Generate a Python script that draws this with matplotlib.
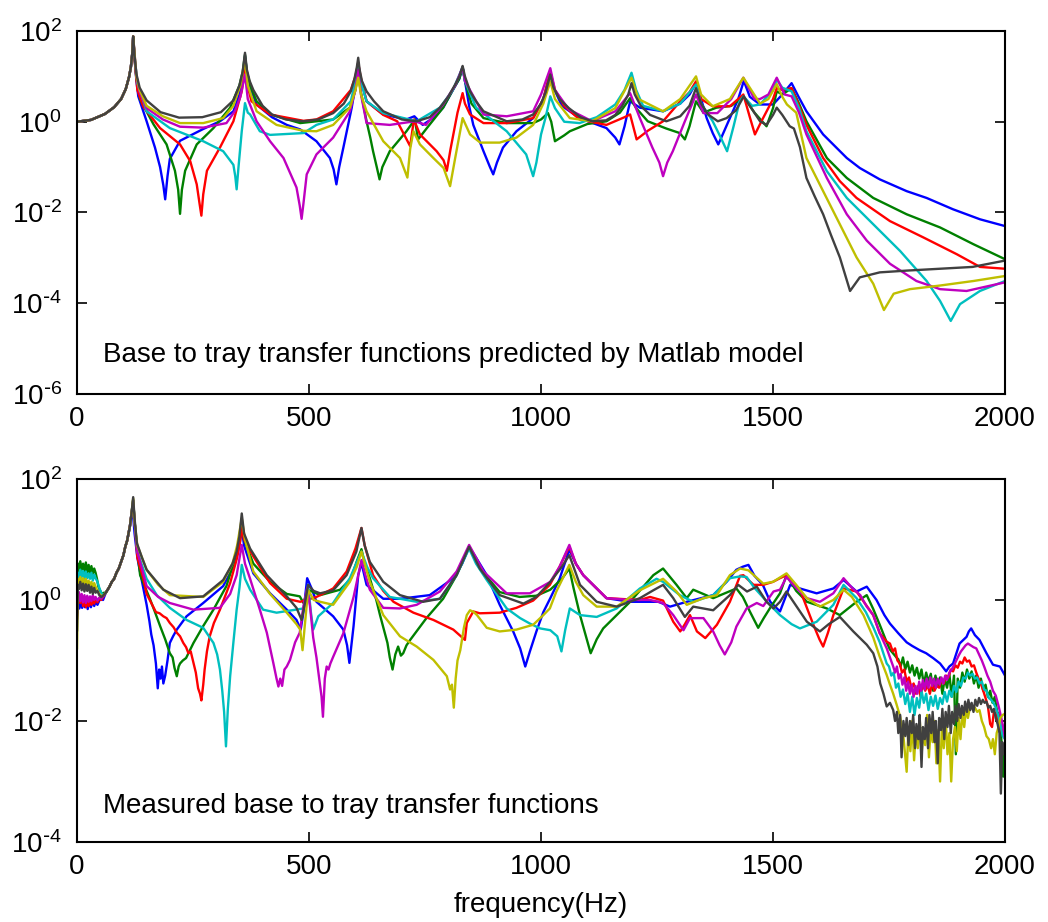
import numpy as np
import matplotlib
matplotlib.use("Agg")
import matplotlib.pyplot as plt
from matplotlib.ticker import FuncFormatter, LogFormatterMathtext, NullLocator

plt.rcParams['font.family'] = ['Liberation Sans', 'DejaVu Sans']
plt.rcParams['axes.unicode_minus'] = False

# ---------------------------------------------------------------------------
# Data: (frequency in Hz, log10 of transfer-function magnitude)
# ---------------------------------------------------------------------------
freq_ticks = [0, 500, 1000, 1500, 2000]
model_decades = [2, 0, -2, -4, -6]
meas_decades = [2, 0, -2, -4]

line_colors = ['#0000ff', '#008000', '#ff0000', '#00bfbf', '#bf00bf', '#bfbf00', '#404040']

# Matlab model: common rise towards the first mode
model_rise = [(0, 0.0), (30, 0.04), (60, 0.17), (80, 0.32), (95, 0.5), (105, 0.72),
              (112, 0.98), (116, 1.2), (119, 1.5), (121, 1.88)]

model_blue = model_rise + [
    (124, 1.4), (128, 0.9), (132, 0.56), (150, 0.01), (168, -0.57), (179, -1.0), (186, -1.4),
    (190, -1.71), (195, -1.2), (200, -0.82), (222, -0.42), (272, -0.16), (308, 0.01), (337, 0.23),
    (350, 0.6), (357, 0.95), (362, 1.45), (366, 1.1), (375, 0.7), (387, 0.38), (420, 0.1),
    (452, -0.07), (481, -0.17), (516, -0.43), (545, -0.8), (553, -1.05), (559, -1.38), (565, -1.0),
    (574, -0.57), (592, 0.31), (600, 0.8), (606, 1.3), (610, 1.0), (624, 0.45), (660, 0.16),
    (710, 0.05), (727, 0.12), (745, -0.07), (770, 0.1), (789, 0.31), (810, 0.7), (824, 0.95),
    (831, 1.2), (836, 0.9), (845, 0.35), (854, -0.07), (876, -0.65), (890, -1.0), (897, -1.16),
    (905, -0.9), (918, -0.57), (947, -0.21), (983, 0.08), (1005, 0.5), (1020, 1.1), (1027, 0.75),
    (1045, 0.35), (1083, 0.08), (1141, -0.14), (1160, -0.35), (1169, -0.5), (1180, -0.1),
    (1192, 0.45), (1213, 0.31), (1263, 0.23), (1300, 0.4), (1320, 0.6), (1334, 0.85), (1345, 0.5),
    (1357, 0.08), (1370, -0.25), (1382, -0.5), (1395, -0.2), (1407, 0.08), (1425, 0.5),
    (1437, 0.9), (1450, 0.55), (1472, 0.38), (1500, 0.38), (1520, 0.6), (1540, 0.85), (1555, 0.55),
    (1572, 0.23), (1608, -0.28), (1659, -0.8), (1687, -1.02), (1730, -1.27), (1788, -1.53),
    (1831, -1.68), (1888, -1.93), (1946, -2.15), (2000, -2.3)]

model_green = model_rise + [
    (124, 1.4), (128, 0.95), (136, 0.49), (165, -0.06), (193, -0.5), (211, -1.08), (218, -1.5),
    (222, -2.03), (226, -1.5), (233, -1.08), (258, -0.5), (294, -0.14), (330, 0.31), (350, 0.8),
    (357, 1.1), (362, 1.48), (366, 1.1), (375, 0.75), (387, 0.45), (420, 0.15), (481, -0.03),
    (552, 0.05), (588, 0.31), (600, 0.7), (606, 1.12), (611, 0.7), (624, 0.01), (632, -0.35),
    (638, -0.65), (646, -1.0), (652, -1.27), (658, -1.0), (674, -0.65), (710, -0.21), (728, 0.05),
    (732, -0.2), (735, -0.39), (754, -0.14), (789, 0.31), (810, 0.7), (824, 0.95), (831, 1.2),
    (836, 0.9), (850, 0.4), (876, 0.08), (926, -0.03), (983, -0.03), (1000, 0.05), (1015, 0.19),
    (1022, 0.0), (1030, -0.43), (1050, -0.3), (1062, -0.21), (1100, -0.05), (1141, 0.01),
    (1170, 0.2), (1192, 0.52), (1205, 0.3), (1230, 0.01), (1270, -0.15), (1299, -0.25),
    (1310, -0.39), (1320, -0.1), (1334, 0.45), (1350, 0.2), (1378, 0.31), (1410, 0.35),
    (1436, 0.56), (1460, 0.2), (1486, -0.1), (1500, 0.3), (1508, 0.67), (1520, 0.6), (1540, 0.74),
    (1556, 0.4), (1572, 0.01), (1616, -0.8), (1659, -1.24), (1716, -1.68), (1788, -2.04),
    (1860, -2.33), (1932, -2.7), (2000, -3.03)]

model_red = model_rise + [
    (124, 1.4), (130, 0.7), (143, 0.33), (179, -0.14), (222, -0.5), (244, -0.87), (258, -1.38),
    (264, -1.8), (268, -2.07), (272, -1.6), (280, -1.08), (308, -0.57), (337, 0.01), (355, 0.67),
    (362, 1.18), (366, 0.85), (376, 0.45), (416, 0.16), (488, 0.02), (516, 0.05), (552, 0.23),
    (590, 0.7), (600, 1.0), (606, 1.3), (611, 1.0), (624, 0.45), (660, 0.15), (690, 0.01),
    (718, -0.54), (726, 0.05), (739, -0.28), (775, -0.65), (790, -0.85), (797, -1.08), (805, -0.6),
    (820, 0.2), (831, 0.63), (836, 0.4), (847, 0.16), (876, -0.03), (926, -0.03), (983, 0.08),
    (1005, 0.5), (1020, 1.1), (1030, 0.7), (1050, 0.35), (1083, 0.05), (1141, -0.07), (1180, 0.1),
    (1192, 0.16), (1206, -0.39), (1230, -0.2), (1263, 0.01), (1300, 0.45), (1320, 0.65),
    (1334, 0.89), (1345, 0.5), (1370, 0.34), (1407, 0.34), (1436, 0.6), (1450, 0.1),
    (1461, -0.28), (1475, 0.01), (1500, 0.5), (1508, 0.74), (1520, 0.7), (1540, 0.74),
    (1556, 0.35), (1572, -0.07), (1608, -0.8), (1644, -1.31), (1680, -1.68), (1752, -2.19),
    (1824, -2.55), (1896, -2.92), (1946, -3.2), (2000, -3.24)]

model_cyan = model_rise + [
    (124, 1.45), (130, 0.85), (150, 0.23), (200, -0.14), (272, -0.43), (315, -0.65), (337, -0.95),
    (341, -1.2), (344, -1.49), (348, -1.0), (355, -0.21), (362, 0.41), (368, 0.2), (373, 0.16),
    (394, -0.21), (416, -0.29), (488, -0.25), (516, -0.07), (552, 0.05), (590, 0.45), (600, 0.9),
    (606, 1.3), (611, 0.9), (624, 0.45), (660, 0.19), (732, 0.01), (782, 0.31), (810, 0.7),
    (831, 1.2), (836, 0.9), (860, 0.31), (926, -0.21), (968, -0.72), (983, -1.2), (990, -0.9),
    (1000, -0.28), (1010, 0.1), (1020, 0.56), (1030, 0.3), (1050, 0.0), (1083, -0.03),
    (1120, 0.1), (1160, 0.38), (1180, 0.7), (1195, 1.08), (1205, 0.7), (1220, 0.35), (1263, 0.23),
    (1300, 0.4), (1334, 0.82), (1345, 0.4), (1370, 0.01), (1385, -0.3), (1401, -0.65),
    (1415, -0.1), (1428, 0.45), (1436, 0.56), (1455, 0.35), (1472, 0.38), (1500, 0.7),
    (1508, 0.93), (1520, 0.75), (1540, 0.67), (1556, 0.3), (1572, -0.21), (1616, -1.09),
    (1659, -1.68), (1716, -2.26), (1774, -2.85), (1831, -3.51), (1860, -3.95), (1883, -4.39),
    (1903, -4.02), (1946, -3.73), (2000, -3.51)]

model_magenta = model_rise + [
    (124, 1.5), (128, 1.0), (135, 0.65), (150, 0.3), (185, 0.05), (222, -0.11), (272, -0.13),
    (322, -0.03), (340, 0.23), (352, 0.55), (362, 1.04), (368, 0.5), (387, 0.01), (416, -0.43),
    (445, -0.8), (473, -1.45), (480, -1.85), (484, -2.14), (488, -1.8), (495, -1.16), (516, -0.72),
    (552, -0.35), (588, 0.23), (600, 0.7), (606, 1.15), (612, 0.6), (624, -0.03), (674, -0.07),
    (728, 0.01), (752, -0.07), (789, 0.38), (815, 0.8), (831, 1.2), (836, 0.9), (876, 0.16),
    (926, 0.12), (983, 0.23), (1000, 0.6), (1020, 1.18), (1030, 0.7), (1060, 0.27), (1110, 0.01),
    (1160, 0.23), (1192, 0.63), (1213, 0.08), (1240, -0.57), (1255, -0.9), (1263, -1.2),
    (1272, -0.9), (1284, -0.65), (1310, 0.01), (1334, 0.6), (1350, 0.19), (1380, 0.19),
    (1410, 0.5), (1436, 0.97), (1460, 0.5), (1472, 0.5), (1490, 0.6), (1508, 0.97), (1525, 0.6),
    (1540, 0.56), (1556, 0.2), (1572, -0.28), (1616, -1.24), (1659, -2.04), (1702, -2.62),
    (1752, -3.13), (1809, -3.51), (1860, -3.69), (1917, -3.73), (2000, -3.54)]

model_yellow = model_rise + [
    (124, 1.5), (128, 1.0), (135, 0.7), (150, 0.35), (185, 0.12), (222, -0.03), (272, -0.03),
    (315, 0.08), (337, 0.35), (352, 0.8), (362, 1.36), (368, 0.8), (387, 0.23), (430, -0.07),
    (488, -0.2), (516, -0.21), (552, -0.07), (588, 0.31), (600, 0.7), (606, 0.97), (612, 0.6),
    (624, 0.23), (660, -0.43), (696, -0.8), (712, -1.23), (718, -0.6), (725, -0.21), (739, -0.5),
    (768, -0.8), (790, -1.02), (804, -1.42), (815, -0.8), (831, 0.08), (847, -0.28), (869, -0.46),
    (911, -0.46), (947, -0.35), (983, -0.07), (1005, 0.4), (1020, 0.89), (1030, 0.5), (1062, 0.08),
    (1110, 0.01), (1160, 0.3), (1195, 0.97), (1210, 0.5), (1263, 0.23), (1300, 0.5), (1334, 1.0),
    (1345, 0.6), (1370, 0.34), (1407, 0.5), (1436, 0.97), (1472, 0.4), (1490, 0.5), (1508, 0.83),
    (1520, 0.55), (1530, 0.38), (1550, 0.2), (1572, -0.8), (1608, -1.53), (1644, -2.26),
    (1680, -2.99), (1716, -3.57), (1739, -4.15), (1760, -3.79), (1795, -3.69), (1860, -3.61),
    (1932, -3.51), (2000, -3.4)]

model_gray = model_rise + [
    (124, 1.45), (128, 1.05), (135, 0.75), (150, 0.47), (180, 0.21), (220, 0.09), (270, 0.1),
    (310, 0.21), (337, 0.47), (350, 0.8), (357, 1.1), (362, 1.52), (366, 1.15), (372, 0.9),
    (380, 0.7), (400, 0.35), (420, 0.16), (450, 0.05), (488, 0.01), (520, 0.05), (552, 0.19),
    (575, 0.4), (590, 0.67), (598, 0.95), (603, 1.2), (606, 1.41), (609, 1.15), (614, 0.9),
    (624, 0.67), (640, 0.45), (660, 0.23), (700, 0.05), (732, 0.01), (760, 0.1), (782, 0.31),
    (800, 0.55), (815, 0.82), (824, 1.0), (831, 1.23), (836, 1.0), (847, 0.67), (860, 0.45),
    (876, 0.23), (926, 0.01), (960, 0.05), (983, 0.16), (1000, 0.4), (1010, 0.65), (1020, 1.04),
    (1027, 0.75), (1040, 0.5), (1060, 0.3), (1085, 0.1), (1110, 0.01), (1140, 0.03), (1160, 0.15),
    (1175, 0.35), (1188, 0.6), (1195, 0.85), (1202, 0.6), (1215, 0.35), (1235, 0.15), (1270, 0.01),
    (1300, 0.12), (1320, 0.35), (1334, 0.74), (1345, 0.4), (1360, 0.16), (1381, 0.01),
    (1400, 0.08), (1420, 0.25), (1437, 0.56), (1450, 0.35), (1472, 0.01), (1486, -0.07),
    (1500, 0.15), (1508, 0.31), (1520, 0.15), (1536, -0.1), (1545, -0.15), (1558, -0.56),
    (1572, -1.24), (1590, -1.65), (1608, -2.04), (1625, -2.5), (1644, -2.99), (1666, -3.73),
    (1687, -3.43), (1730, -3.32), (1790, -3.28), (1860, -3.24), (1930, -3.2), (2000, -3.06)]

# Measurements: common rise towards the first mode
meas_rise = [(62, 0.12), (66, 0.17), (70, 0.22), (75, 0.3), (80, 0.35), (85, 0.45), (90, 0.52),
             (95, 0.63), (100, 0.74), (104, 0.88), (108, 0.98), (111, 1.1), (114, 1.22), (117, 1.4)]

meas_blue = [
    (0, -0.25), (2, -0.03), (5, -0.14), (8, -0.04), (11, -0.13), (14, -0.02), (17, -0.12),
    (20, -0.05), (23, -0.15), (26, -0.04), (30, -0.12), (33, -0.02), (37, -0.1), (40, -0.03),
    (44, -0.08), (48, -0.01), (52, 0.03), (56, 0.0)] + meas_rise + [
    (121, 1.38), (124, 1.1), (130, 0.7), (136, 0.46), (150, -0.08), (156, -0.35), (160, -0.57),
    (165, -0.75), (170, -1.05), (174, -1.46), (177, -1.15), (180, -1.3), (183, -1.1), (186, -1.38),
    (190, -1.25), (195, -1.0), (200, -0.71), (207, -0.6), (215, -0.49), (236, -0.27), (272, -0.05),
    (315, 0.23), (340, 0.6), (350, 0.9), (355, 1.18), (360, 0.9), (380, 0.44), (416, 0.11),
    (452, -0.16), (473, -0.33), (482, -0.49), (488, -0.2), (496, 0.36), (505, 0.2), (516, -0.03),
    (552, -0.27), (574, -0.49), (582, -0.75), (587, -1.04), (592, -0.7), (596, -0.43), (606, 0.41),
    (613, 0.61), (624, 0.25), (660, 0.02), (696, 0.02), (760, 0.08), (811, 0.36), (830, 0.6),
    (845, 0.88), (860, 0.7), (883, 0.41), (911, -0.08), (940, -0.52), (955, -0.8), (966, -1.1),
    (976, -0.85), (990, -0.52), (1005, -0.2), (1020, 0.03), (1040, 0.35), (1061, 0.83),
    (1075, 0.6), (1091, 0.41), (1141, 0.03), (1192, -0.03), (1253, -0.03), (1278, -0.11),
    (1314, -0.03), (1371, 0.08), (1400, 0.3), (1421, 0.5), (1435, 0.55), (1447, 0.58), (1460, 0.4),
    (1478, 0.25), (1494, -0.03), (1515, -0.19), (1537, 0.25), (1558, 0.19), (1594, 0.11),
    (1630, 0.19), (1652, 0.33), (1680, 0.14), (1702, 0.22), (1723, 0.0), (1740, -0.25),
    (1752, -0.39), (1770, -0.55), (1788, -0.7), (1800, -0.76), (1816, -0.83), (1830, -0.88),
    (1845, -0.96), (1860, -1.05), (1873, -1.18), (1880, -1.1), (1888, -1.05), (1902, -0.72),
    (1917, -0.61), (1922, -0.52), (1927, -0.47), (1935, -0.58), (1945, -0.66), (1960, -0.88),
    (1974, -1.07), (1989, -1.1), (2000, -1.25)]

meas_green = [
    (0, -0.1), (2, 0.6), (4, 0.5), (7, 0.64), (10, 0.5), (13, 0.6), (16, 0.47), (19, 0.62),
    (22, 0.45), (25, 0.58), (28, 0.44), (31, 0.56), (34, 0.43), (37, 0.52), (40, 0.45), (43, 0.35),
    (46, 0.22), (50, 0.15), (54, 0.1), (58, 0.12)] + meas_rise + [
    (121, 1.65), (124, 1.3), (130, 0.8), (136, 0.41), (157, 0.02), (168, -0.2), (179, -0.43),
    (190, -0.65), (200, -0.88), (206, -0.95), (210, -1.12), (215, -1.26), (219, -1.1),
    (222, -1.05), (228, -1.0), (235, -0.96), (251, -0.71), (272, -0.43), (294, -0.16), (322, 0.23),
    (345, 0.8), (355, 1.3), (360, 1.0), (380, 0.6), (416, 0.3), (452, 0.1), (480, 0.06),
    (488, -0.05), (498, 0.17), (524, 0.08), (567, 0.17), (590, 0.35), (603, 0.64), (613, 0.84),
    (620, 0.6), (631, 0.36), (645, 0.0), (653, -0.25), (669, -0.71), (674, -0.95), (680, -1.15),
    (686, -0.9), (692, -0.77), (698, -0.92), (703, -0.88), (710, -0.75), (718, -0.66),
    (753, -0.3), (789, 0.02), (818, 0.41), (845, 0.88), (868, 0.52), (911, 0.13), (954, 0.05),
    (990, 0.07), (1020, 0.17), (1045, 0.35), (1061, 0.52), (1070, 0.2), (1084, -0.25),
    (1095, -0.55), (1107, -0.88), (1120, -0.65), (1134, -0.47), (1192, -0.03), (1242, 0.41),
    (1263, 0.52), (1292, 0.25), (1314, 0.03), (1328, 0.17), (1371, 0.03), (1421, 0.19),
    (1435, 0.05), (1450, -0.19), (1468, -0.46), (1480, -0.3), (1493, -0.14), (1515, 0.11),
    (1529, 0.41), (1550, 0.15), (1573, -0.03), (1616, -0.14), (1644, -0.25), (1680, -0.03),
    (1702, 0.08), (1716, -0.15), (1730, -0.41), (1745, -0.7), (1752, -0.82), (1766, -0.95),
    (1770, -0.98), (1775, -1.1), (1780, -0.95), (1785, -1.15), (1790, -1.02), (1795, -1.2),
    (1800, -1.08), (1805, -1.25), (1810, -1.12), (1815, -1.3), (1820, -1.15), (1825, -1.4),
    (1830, -1.2), (1835, -1.35), (1840, -1.22), (1845, -1.5), (1850, -1.25), (1855, -1.42),
    (1860, -1.28), (1865, -1.55), (1870, -1.3), (1875, -1.45), (1880, -1.22), (1885, -1.6),
    (1890, -1.25), (1894, -2.55), (1898, -1.3), (1903, -1.45), (1908, -1.2), (1913, -1.35),
    (1918, -1.15), (1923, -1.3), (1928, -1.18), (1933, -1.38), (1938, -1.25), (1943, -1.45),
    (1948, -1.3), (1953, -1.5), (1958, -1.4), (1963, -1.6), (1968, -1.5), (1973, -1.7),
    (1978, -1.6), (1983, -1.85), (1988, -1.9), (1992, -2.3), (1996, -2.92), (2000, -2.4)]

meas_red = [
    (0, -0.3), (2, 0.0), (4, 0.1), (7, -0.05), (10, 0.08), (13, -0.1), (16, 0.05), (19, -0.12),
    (22, 0.03), (25, -0.1), (28, 0.0), (31, -0.08), (34, 0.04), (37, -0.06), (40, 0.02),
    (44, -0.04), (48, 0.02), (52, 0.0), (56, 0.05)] + meas_rise + [
    (121, 1.6), (124, 1.3), (130, 0.7), (143, 0.35), (150, 0.1), (160, -0.05), (170, -0.2),
    (178, -0.22), (186, -0.27), (193, -0.3), (200, -0.38), (208, -0.45), (215, -0.54),
    (222, -0.6), (229, -0.71), (235, -0.78), (240, -0.88), (245, -0.85), (251, -1.04), (256, -1.2),
    (261, -1.46), (265, -1.55), (268, -1.66), (272, -1.4), (275, -1.15), (280, -0.85), (286, -0.6),
    (295, -0.38), (308, -0.16), (330, 0.28), (345, 0.7), (351, 0.94), (355, 1.2), (360, 1.0),
    (380, 0.72), (416, 0.28), (452, 0.02), (481, -0.03), (516, 0.05), (552, 0.19), (581, 0.47),
    (600, 0.85), (613, 1.19), (620, 0.9), (638, 0.41), (660, 0.15), (682, -0.03), (725, -0.21),
    (768, -0.33), (811, -0.49), (836, -0.66), (840, -0.38), (854, -0.19), (868, -0.22),
    (911, -0.21), (947, -0.13), (983, -0.01), (1019, 0.25), (1040, 0.55), (1061, 0.88),
    (1075, 0.6), (1091, 0.41), (1141, 0.03), (1213, 0.0), (1235, 0.05), (1263, -0.01),
    (1285, -0.36), (1300, -0.52), (1310, -0.4), (1321, -0.25), (1336, -0.52), (1354, -0.63),
    (1379, -0.41), (1407, -0.03), (1429, 0.4), (1436, 0.41), (1458, 0.25), (1479, 0.25),
    (1500, 0.3), (1515, 0.36), (1529, 0.41), (1558, 0.17), (1587, -0.41), (1600, -0.65),
    (1608, -0.77), (1618, -0.55), (1630, -0.25), (1652, 0.19), (1680, 0.14), (1702, -0.1),
    (1716, -0.25), (1730, -0.55), (1745, -0.69), (1752, -0.72), (1758, -0.85), (1763, -0.8),
    (1768, -1.0), (1773, -1.05), (1778, -1.2), (1783, -1.15), (1788, -1.35), (1793, -1.28),
    (1798, -1.45), (1803, -1.38), (1808, -1.55), (1813, -1.42), (1818, -1.6), (1823, -1.38),
    (1828, -1.5), (1833, -1.4), (1838, -1.55), (1843, -1.38), (1848, -1.5), (1853, -1.42),
    (1858, -1.45), (1863, -1.32), (1868, -1.38), (1873, -1.25), (1878, -1.28), (1883, -1.15),
    (1888, -1.18), (1893, -1.08), (1898, -1.12), (1903, -1.02), (1908, -1.05), (1913, -0.95),
    (1918, -1.02), (1923, -1.0), (1928, -1.1), (1933, -1.08), (1938, -1.2), (1943, -1.3),
    (1948, -1.38), (1953, -1.5), (1958, -1.62), (1963, -1.75), (1968, -2.05), (1972, -2.1),
    (1976, -1.85), (1982, -1.9), (1988, -2.1), (1994, -2.2), (2000, -2.05)]

meas_cyan = [
    (0, -0.1), (2, 0.45), (4, 0.36), (7, 0.5), (10, 0.38), (13, 0.48), (16, 0.35), (19, 0.47),
    (22, 0.36), (25, 0.44), (28, 0.35), (31, 0.45), (34, 0.32), (37, 0.42), (40, 0.36), (44, 0.3),
    (48, 0.2), (52, 0.12), (56, 0.08)] + meas_rise + [
    (121, 1.65), (124, 1.3), (130, 0.8), (150, 0.35), (172, 0.08), (200, -0.13), (236, -0.33),
    (272, -0.46), (294, -0.71), (302, -0.9), (308, -1.15), (313, -1.5), (317, -1.85), (321, -2.42),
    (325, -1.8), (330, -1.26), (337, -0.7), (344, -0.16), (350, 0.2), (355, 0.58), (362, 0.35),
    (373, 0.17), (401, -0.16), (430, -0.21), (488, -0.14), (498, 0.25), (504, -0.2), (509, -0.49),
    (520, -0.27), (552, -0.05), (588, 0.36), (613, 0.8), (625, 0.55), (638, 0.36), (674, 0.05),
    (732, -0.03), (782, 0.02), (818, 0.41), (845, 0.85), (860, 0.6), (883, 0.33), (926, -0.14),
    (955, -0.3), (976, -0.39), (998, -0.47), (1020, -0.5), (1035, -0.6), (1044, -0.85),
    (1052, -0.5), (1062, -0.14), (1084, -0.25), (1120, -0.28), (1163, -0.14), (1213, 0.19),
    (1249, 0.35), (1263, 0.3), (1299, 0.08), (1328, -0.03), (1371, 0.08), (1407, 0.36),
    (1429, 0.39), (1443, 0.38), (1460, 0.2), (1487, -0.03), (1515, -0.25), (1540, -0.4),
    (1558, -0.47), (1594, -0.36), (1630, -0.08), (1652, 0.25), (1680, 0.03), (1700, -0.2),
    (1716, -0.45), (1730, -0.7), (1745, -1.05), (1750, -1.1), (1755, -1.25), (1760, -1.2),
    (1765, -1.45), (1770, -1.38), (1775, -1.6), (1780, -1.48), (1785, -1.72), (1790, -1.55),
    (1795, -1.85), (1800, -1.6), (1805, -1.9), (1810, -1.62), (1815, -1.78), (1820, -1.5),
    (1825, -1.7), (1830, -1.55), (1835, -1.82), (1840, -1.6), (1845, -1.75), (1850, -1.58),
    (1855, -1.8), (1860, -1.62), (1865, -1.72), (1870, -1.52), (1875, -1.68), (1880, -1.5),
    (1885, -1.6), (1890, -1.42), (1895, -1.52), (1900, -1.35), (1905, -1.42), (1910, -1.28),
    (1915, -1.3), (1920, -1.2), (1925, -1.25), (1930, -1.22), (1935, -1.3), (1940, -1.28),
    (1945, -1.38), (1950, -1.35), (1955, -1.48), (1960, -1.5), (1965, -1.62), (1970, -1.65),
    (1975, -1.7), (1980, -1.78), (1985, -1.9), (1990, -2.05), (1995, -2.25), (2000, -2.3)]

meas_magenta = [
    (0, -0.2), (2, 0.05), (4, 0.13), (7, -0.02), (10, 0.1), (13, -0.04), (16, 0.08), (19, -0.05),
    (22, 0.07), (25, -0.03), (28, 0.06), (31, -0.02), (34, 0.08), (37, 0.0), (40, 0.05),
    (44, -0.01), (48, 0.04), (52, 0.02), (56, 0.06)] + meas_rise + [
    (121, 1.65), (124, 1.3), (130, 0.8), (150, 0.23), (175, 0.05), (200, -0.05), (251, -0.16),
    (308, -0.13), (330, 0.1), (344, 0.41), (355, 0.91), (362, 0.6), (373, 0.35), (394, -0.16),
    (409, -0.54), (423, -1.04), (430, -1.3), (434, -1.43), (438, -1.3), (442, -1.42), (447, -1.15),
    (452, -1.1), (459, -0.99), (470, -0.7), (480, -0.54), (488, -0.1), (496, 0.2), (502, -0.1),
    (509, -0.62), (516, -0.95), (522, -1.3), (527, -1.6), (530, -1.93), (534, -1.3), (538, -1.1),
    (542, -1.15), (546, -1.05), (552, -0.94), (574, -0.55), (596, 0.05), (613, 0.66), (622, 0.4),
    (631, 0.17), (660, -0.13), (696, -0.14), (732, -0.08), (782, 0.14), (818, 0.47), (845, 0.91),
    (860, 0.7), (876, 0.47), (926, 0.11), (976, 0.11), (1020, 0.3), (1040, 0.55), (1061, 0.91),
    (1075, 0.6), (1091, 0.41), (1141, 0.03), (1192, 0.0), (1235, 0.0), (1263, -0.05),
    (1285, -0.25), (1307, -0.5), (1321, -0.3), (1350, -0.3), (1371, -0.52), (1385, -0.75),
    (1396, -0.9), (1410, -0.7), (1421, -0.44), (1443, -0.14), (1465, -0.05), (1479, -0.1),
    (1501, 0.14), (1515, 0.17), (1529, 0.38), (1550, 0.2), (1573, 0.03), (1601, -0.03),
    (1630, 0.11), (1652, 0.36), (1670, 0.2), (1688, 0.08), (1702, -0.11), (1716, -0.25),
    (1730, -0.55), (1745, -0.8), (1759, -1.1), (1763, -1.2), (1767, -1.1), (1771, -1.3),
    (1775, -1.22), (1779, -1.4), (1783, -1.28), (1787, -1.5), (1791, -1.35), (1795, -1.55),
    (1799, -1.4), (1803, -1.6), (1807, -1.42), (1811, -1.55), (1815, -1.35), (1819, -1.5),
    (1823, -1.32), (1827, -1.48), (1831, -1.3), (1835, -1.45), (1839, -1.28), (1843, -1.42),
    (1847, -1.3), (1851, -1.45), (1855, -1.3), (1859, -1.4), (1863, -1.28), (1867, -1.38),
    (1871, -1.25), (1875, -1.32), (1880, -1.2), (1885, -1.15), (1890, -1.08), (1895, -1.0),
    (1900, -0.92), (1905, -0.85), (1910, -0.8), (1915, -0.75), (1920, -0.72), (1926, -0.75),
    (1932, -0.78), (1938, -0.8), (1944, -0.9), (1950, -1.0), (1956, -1.12), (1962, -1.25),
    (1968, -1.35), (1974, -1.5), (1980, -1.58), (1986, -1.75), (1992, -1.95), (1996, -2.1),
    (2000, -2.3)]

meas_yellow = [
    (0, -0.8), (2, 0.35), (4, 0.26), (7, 0.38), (10, 0.28), (13, 0.36), (16, 0.24), (19, 0.35),
    (22, 0.25), (25, 0.32), (28, 0.22), (31, 0.3), (34, 0.2), (37, 0.28), (40, 0.22), (44, 0.15),
    (48, 0.1), (52, 0.07), (56, 0.07)] + meas_rise + [
    (121, 1.68), (124, 1.3), (130, 0.9), (150, 0.5), (175, 0.25), (200, 0.08), (272, 0.05),
    (315, 0.3), (335, 0.6), (345, 0.9), (355, 1.35), (362, 1.0), (380, 0.47), (416, 0.1),
    (452, -0.21), (473, -0.4), (481, -0.49), (486, -0.83), (490, -0.5), (498, 0.17), (510, 0.0),
    (524, -0.03), (552, -0.08), (588, 0.3), (603, 0.55), (613, 0.8), (631, 0.3), (660, -0.25),
    (696, -0.6), (732, -0.77), (768, -0.99), (797, -1.26), (804, -1.48), (808, -1.4),
    (812, -1.78), (816, -1.3), (820, -1.0), (826, -0.83), (834, -0.45), (840, -0.25),
    (847, -0.17), (855, -0.2), (862, -0.25), (883, -0.46), (911, -0.52), (947, -0.49),
    (983, -0.41), (1005, -0.25), (1019, -0.14), (1033, 0.14), (1061, 0.58), (1075, 0.3),
    (1091, 0.08), (1120, -0.11), (1163, -0.11), (1213, 0.16), (1263, 0.35), (1292, 0.14),
    (1314, -0.08), (1350, 0.03), (1379, 0.08), (1407, 0.41), (1429, 0.52), (1447, 0.49),
    (1479, 0.27), (1500, 0.3), (1529, 0.44), (1550, 0.25), (1573, 0.03), (1601, -0.11),
    (1630, 0.0), (1652, 0.17), (1670, 0.05), (1695, -0.25), (1716, -0.62), (1730, -0.94),
    (1745, -1.24), (1752, -1.4), (1759, -1.55), (1766, -1.72), (1774, -1.93), (1781, -2.25),
    (1788, -2.84), (1792, -2.1), (1796, -2.5), (1800, -2.0), (1804, -2.65), (1808, -2.15),
    (1812, -2.45), (1816, -1.95), (1820, -2.55), (1824, -2.2), (1828, -2.4), (1832, -1.9),
    (1836, -2.6), (1840, -2.1), (1844, -2.35), (1848, -2.0), (1852, -2.7), (1856, -2.15),
    (1860, -3.0), (1864, -2.05), (1868, -2.45), (1872, -1.95), (1876, -2.55), (1880, -2.2),
    (1884, -3.0), (1888, -2.3), (1892, -2.1), (1896, -2.5), (1900, -1.95), (1904, -2.3),
    (1908, -1.85), (1912, -2.1), (1916, -1.8), (1920, -1.95), (1925, -1.75), (1930, -1.8),
    (1935, -1.78), (1940, -1.85), (1945, -1.82), (1950, -2.0), (1955, -2.1), (1960, -2.25),
    (1965, -2.3), (1970, -2.45), (1974, -2.3), (1978, -2.55), (1982, -2.2), (1986, -2.1),
    (1990, -1.95), (1995, -1.9), (2000, -1.88)]

meas_gray = [
    (0, -0.5), (2, 0.25), (4, 0.18), (7, 0.3), (10, 0.16), (13, 0.27), (16, 0.14), (19, 0.26),
    (22, 0.15), (25, 0.25), (28, 0.12), (31, 0.22), (34, 0.1), (37, 0.2), (40, 0.12), (44, 0.15),
    (48, 0.08), (52, 0.05), (56, 0.07)] + meas_rise + [
    (121, 1.7), (124, 1.35), (129, 0.94), (140, 0.7), (150, 0.5), (186, 0.17), (222, 0.03),
    (272, 0.06), (315, 0.33), (335, 0.6), (344, 0.8), (350, 1.05), (355, 1.43), (360, 1.1),
    (373, 0.85), (409, 0.41), (452, 0.06), (473, -0.13), (484, -0.33), (490, -0.1), (498, 0.25),
    (510, 0.15), (524, 0.11), (552, 0.16), (581, 0.41), (602, 0.8), (613, 1.19), (620, 0.9),
    (631, 0.63), (660, 0.3), (696, 0.08), (746, -0.03), (782, 0.02), (818, 0.41), (845, 0.88),
    (868, 0.52), (911, 0.08), (962, -0.06), (990, 0.05), (1020, 0.3), (1045, 0.55), (1061, 0.74),
    (1084, 0.25), (1120, -0.03), (1163, -0.11), (1213, 0.03), (1242, 0.16), (1263, 0.25),
    (1285, 0.03), (1310, -0.28), (1328, -0.11), (1371, -0.17), (1407, 0.08), (1425, 0.25),
    (1444, 0.14), (1465, 0.22), (1486, -0.03), (1501, -0.14), (1515, -0.03), (1529, 0.14),
    (1550, -0.1), (1573, -0.36), (1601, -0.52), (1620, -0.4), (1644, -0.28), (1673, -0.52),
    (1702, -0.74), (1716, -0.88), (1725, -1.1), (1731, -1.38), (1738, -1.55), (1745, -1.76),
    (1752, -1.7), (1759, -1.82), (1763, -2.0), (1767, -1.85), (1770, -2.2), (1774, -1.9),
    (1777, -2.6), (1781, -2.0), (1785, -2.25), (1788, -1.95), (1792, -2.4), (1795, -2.0),
    (1799, -2.2), (1802, -1.9), (1806, -2.45), (1809, -2.05), (1813, -2.3), (1816, -1.9),
    (1820, -2.76), (1823, -2.1), (1827, -2.3), (1830, -1.95), (1834, -2.45), (1837, -1.9),
    (1841, -2.2), (1844, -1.85), (1848, -2.35), (1851, -2.0), (1855, -2.7), (1858, -1.95),
    (1862, -2.15), (1865, -1.8), (1869, -2.3), (1872, -1.85), (1876, -2.1), (1879, -1.75),
    (1883, -2.2), (1886, -1.85), (1890, -2.05), (1893, -1.75), (1897, -2.0), (1900, -1.72),
    (1904, -1.95), (1907, -1.75), (1911, -1.9), (1914, -1.68), (1918, -1.85), (1921, -1.65),
    (1925, -1.82), (1928, -1.7), (1932, -1.85), (1936, -1.65), (1940, -1.75), (1944, -1.62),
    (1948, -1.72), (1952, -1.65), (1956, -1.7), (1960, -1.68), (1964, -1.78), (1968, -1.75),
    (1972, -1.85), (1976, -1.8), (1980, -1.95), (1984, -2.05), (1988, -2.2), (1991, -3.2),
    (1994, -2.35), (1997, -2.55), (2000, -2.4)]

model_curves = [model_blue, model_green, model_red, model_cyan, model_magenta, model_yellow, model_gray]
meas_curves = [meas_blue, meas_green, meas_red, meas_cyan, meas_magenta, meas_yellow, meas_gray]

model_caption = "Base to tray transfer functions predicted by Matlab model"
meas_caption = "Measured base to tray transfer functions"
x_label = "frequency(Hz)"

# ---------------------------------------------------------------------------
# Figure
# ---------------------------------------------------------------------------
FS = 20
fig = plt.figure(figsize=(10.48, 9.22), dpi=100)
ax_top = fig.add_axes([0.0735, 0.5727, 0.8855, 0.3937])
ax_bot = fig.add_axes([0.0735, 0.0868, 0.8855, 0.3937])


def decade_label(value, pos):
    """Power-of-ten label written with a short hyphen for negative exponents."""
    exp = int(round(np.log10(value)))
    if exp < 0:
        return r'$\mathdefault{10^{\text{-}%d}}$' % (-exp)
    return r'$\mathdefault{10^{%d}}$' % exp


def draw_curves(ax, curves):
    for pts, col in zip(curves, line_colors):
        arr = np.asarray(pts, dtype=float)
        ax.plot(arr[:, 0], 10.0 ** arr[:, 1], color=col, lw=1.7, solid_joinstyle='round')


def style_axes(ax, decades, formatter):
    ax.set_yscale('log')
    ax.set_xlim(freq_ticks[0], freq_ticks[-1])
    ax.set_ylim(10.0 ** min(decades), 10.0 ** max(decades))
    ax.set_xticks(freq_ticks)
    ax.set_xticklabels([str(t) for t in freq_ticks])
    ax.set_yticks([10.0 ** d for d in decades])
    ax.yaxis.set_major_formatter(formatter)
    ax.yaxis.set_minor_locator(NullLocator())
    ax.tick_params(axis='both', which='major', direction='in', length=7, width=1.2,
                   top=True, right=True, labelsize=FS)
    ax.tick_params(axis='x', pad=9)
    ax.tick_params(axis='y', pad=11)
    for sp in ax.spines.values():
        sp.set_linewidth(1.5)


draw_curves(ax_top, model_curves)
draw_curves(ax_bot, meas_curves)
style_axes(ax_top, model_decades, FuncFormatter(decade_label))
style_axes(ax_bot, meas_decades, FuncFormatter(decade_label))

ax_top.text(0.028, 0.088, model_caption, transform=ax_top.transAxes, fontsize=FS,
            ha='left', va='baseline')
ax_bot.text(0.028, 0.080, meas_caption, transform=ax_bot.transAxes, fontsize=FS,
            ha='left', va='baseline')
fig.text(541 / 1048, 0.011, x_label, fontsize=FS, ha='center', va='baseline')

try:
    fig.canvas.draw()
except Exception:
    # older mathtext without \text support: fall back to the stock formatter
    for ax in (ax_top, ax_bot):
        ax.yaxis.set_major_formatter(LogFormatterMathtext())

fig.savefig('out.png', dpi=100)
